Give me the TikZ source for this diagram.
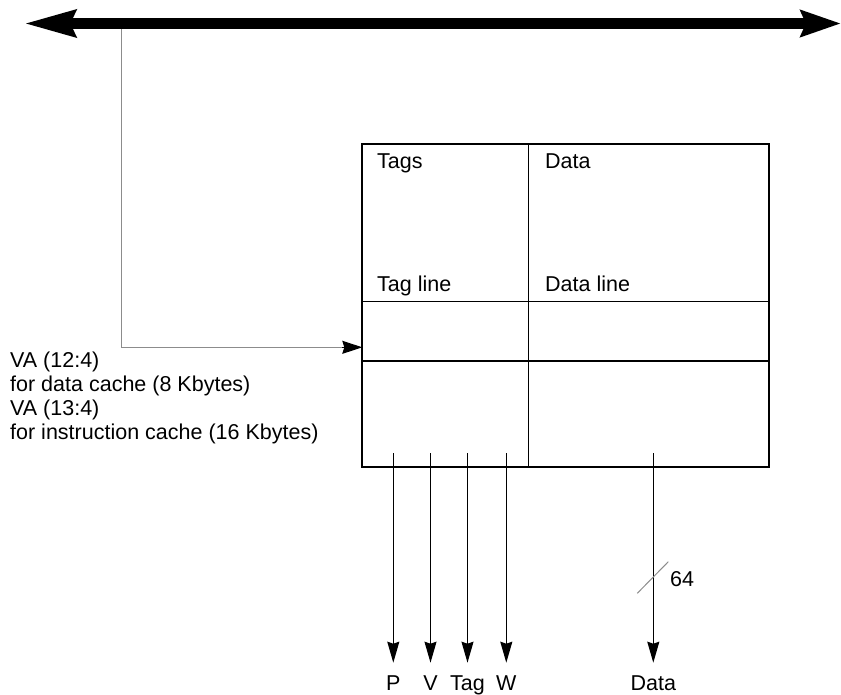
\documentclass[tikz,border=0pt]{standalone}
\usepackage{fontspec}
\setmainfont{Liberation Sans}
\usetikzlibrary{arrows.meta}
\definecolor{wiregray}{HTML}{8C8C8C}
\providecommand{\ink}{black}

\begin{document}
\begin{tikzpicture}[x = 1pt, y = -1pt,
    every node/.style = {inner sep = 0pt, text = \ink, font = \fontsize{21.5}{24}\selectfont},
    busarrow/.style = {line width = 10.7pt, {Stealth[length = 51pt, width = 26pt, inset = 5pt]}-{Stealth[length = 40pt, width = 26pt, inset = 5pt]}},
    outarrow/.style = {line width = 1.2pt, -{Stealth[length = 21pt, width = 12pt, inset = 2pt]}},
    cellline/.style = {line width = 1.2pt}]%
    \useasboundingbox (0, 0) rectangle (841, 694);

    % bus
    \coordinate (busL) at (24, 23.5);
    \coordinate (busR) at (841, 23.5);
    \draw[\ink, busarrow] (busL) -- (busR);

    % cache array
    \coordinate (boxNW) at (362.3, 144);
    \coordinate (boxSE) at (769, 466.7);
    \draw[\ink, cellline] (528.3, 144) -- (528.3, 466.7);
    \draw[\ink, cellline] (362.3, 301.7) -- (769, 301.7);
    \draw[\ink, cellline] (362.3, 361) -- (769, 361);
    \draw[\ink, line width = 2pt] (boxNW) rectangle (boxSE);

    \node[anchor = base west] (tags) at (377, 168) {Tags};
    \node[anchor = base west] (data) at (545, 168) {Data};
    \node[anchor = base west] (tagline) at (377, 291) {Tag line};
    \node[anchor = base west] (dataline) at (545, 291) {Data line};

    % index from the bus
    \coordinate (tap) at (121.7, 29);
    \coordinate (idx) at (362.3, 347.3);
    \draw[wiregray, line width = 1pt] (tap) |- ([xshift = -19pt]idx);
    \draw[\ink, line width = 1pt, -{Stealth[length = 20pt, width = 13pt, inset = 2pt]}] ([xshift = -20pt]idx) -- (idx);

    \node[anchor = north west, align = left] (va) at (10, 352)
      {VA (12:4)\\for data cache (8 Kbytes)\\VA (13:4)\\for instruction cache (16 Kbytes)};

    % outputs
    \foreach \name/\xpos/\lbl in {p/393.3/P, v/430.5/V, tag/467.5/Tag, w/506.3/W, dat/653.3/Data} {
      \coordinate (\name top) at (\xpos, 453.3);
      \node[anchor = base] (\name) at (\xpos, 690) {\lbl};
      \draw[\ink, outarrow] (\name top) -- (\xpos, 662.7);
    }

    % bus width
    \draw[wiregray, line width = 1pt] (637.3, 593.3) -- (668.3, 561.7);
    \node[anchor = base west] (width) at (670, 586.7) {64};
  \end{tikzpicture}
\end{document}
